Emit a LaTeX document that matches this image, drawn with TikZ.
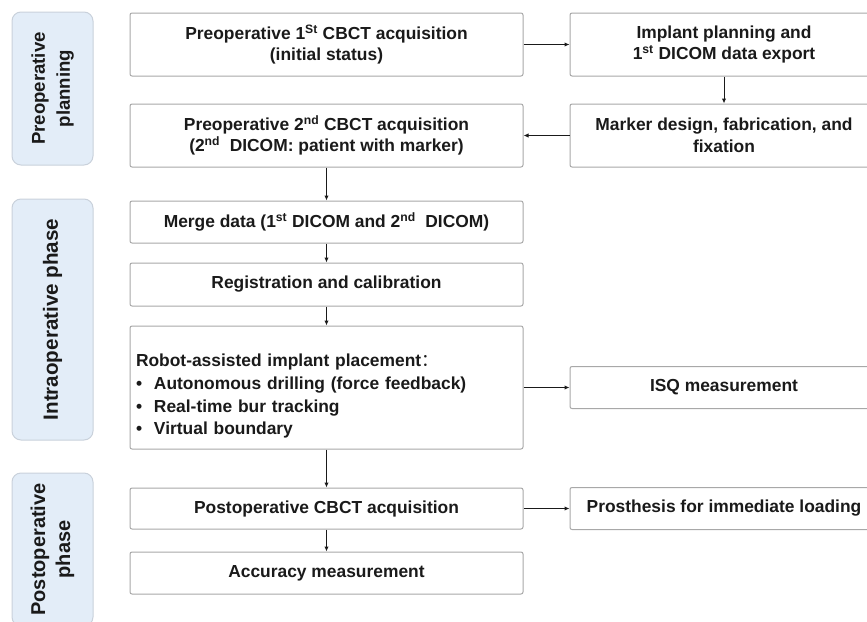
\documentclass[tikz,border=0pt]{standalone}
\usepackage{fontspec}
\setmainfont{Liberation Sans}
\newfontfamily\cjk{Noto Sans CJK SC}
\usepackage{xcolor}
\usetikzlibrary{arrows.meta,positioning}
\definecolor{BoxLine}{HTML}{A8A8A8}
\definecolor{PhaseLine}{HTML}{C9D1DB}
\definecolor{PhaseFill}{HTML}{E3EDF8}
\definecolor{Ink}{HTML}{1A1A1A}
\tikzset{box/.style={
         draw=BoxLine,fill=white,line width=1pt,rounded corners=2pt,minimum height=#1,inner sep=0pt,
         align=center,text=Ink,font=\bfseries\fontsize{17.4}{21.5}\selectfont}}
\tikzset{phase/.style={
         draw=PhaseLine,fill=PhaseFill,line width=1pt,rounded corners=9pt,rotate=90,minimum width=#1,
         minimum height=81pt,inner sep=0pt,align=center,text=Ink,font=\bfseries\fontsize{18.6}{25}\selectfont}}
\tikzset{link/.style={
         draw=Ink,line width=1pt,-{Latex[length=5pt,width=4.5pt]}}}

\begin{document}
\begin{tikzpicture}[x=1pt,y=-1pt,
leftbox/.style={box=#1,minimum width=393pt},rightbox/.style={box=#1,minimum width=308pt}]
\useasboundingbox (0,0) rectangle (867,621);

% phases
\node (ph1) at (52.5,88.5) [phase=153] {Preoperative\\planning};
\node (ph2) at (52.5,319.5) [phase=241,font=\bfseries\fontsize{20.6}{25}\selectfont] {Intraoperative phase};
\node (ph3) at (52.5,549.5) [phase=153,font=\bfseries\fontsize{20}{25}\selectfont] {Postoperative\\phase};

% left column
\node (pre1) at (326.5,44.5) [leftbox=63] {Preoperative 1\textsuperscript{St} CBCT acquisition\\(initial status)};
\node (pre2) at (326.5,135.5) [leftbox=63] {Preoperative 2\textsuperscript{nd} CBCT acquisition\\(2\textsuperscript{nd}\ \ DICOM: patient with marker)};
\node (merge) at (326.5,222) [leftbox=42] {Merge data (1\textsuperscript{st} DICOM and 2\textsuperscript{nd}\ \ DICOM)};
\node (reg) at (326.5,284.5) [leftbox=43] {Registration and calibration};
\node (robot) at (326.5,387.5) [leftbox=123,align=left,text width=381pt,font=\bfseries\fontsize{17.4}{22.7}\selectfont]
  {\rule{0pt}{30pt}Robot-assisted implant placement{\cjk\mdseries ：}\\
  \makebox[18pt][l]{\textbullet}Autonomous drilling (force feedback)\\
  \makebox[18pt][l]{\textbullet}Real-time bur tracking\\
  \makebox[18pt][l]{\textbullet}Virtual boundary};
\node (post) at (326.5,508.5) [leftbox=41] {Postoperative CBCT acquisition};
\node (acc) at (326.5,573) [leftbox=42] {Accuracy measurement};

% right column
\node (plan) at (724,44.5) [rightbox=63] {Implant planning and\\1\textsuperscript{st} DICOM data export};
\node (marker) at (724,135.5) [rightbox=63] {Marker design, fabrication, and\\fixation};
\node (isq) at (724,387.5) [rightbox=42] {ISQ measurement};
\node (prost) at (724,508.5) [rightbox=42] {Prosthesis for immediate loading};

% arrows
\draw [link] (pre1) -- (plan);
\draw [link] (plan) -- (marker);
\draw [link] (marker) -- (pre2);
\draw [link] (pre2) -- (merge);
\draw [link] (merge) -- (reg);
\draw [link] (reg) -- (robot);
\draw [link] (robot) -- (isq);
\draw [link] (robot) -- (post);
\draw [link] (post) -- (prost);
\draw [link] (post) -- (acc);
\end{tikzpicture}
\end{document}
